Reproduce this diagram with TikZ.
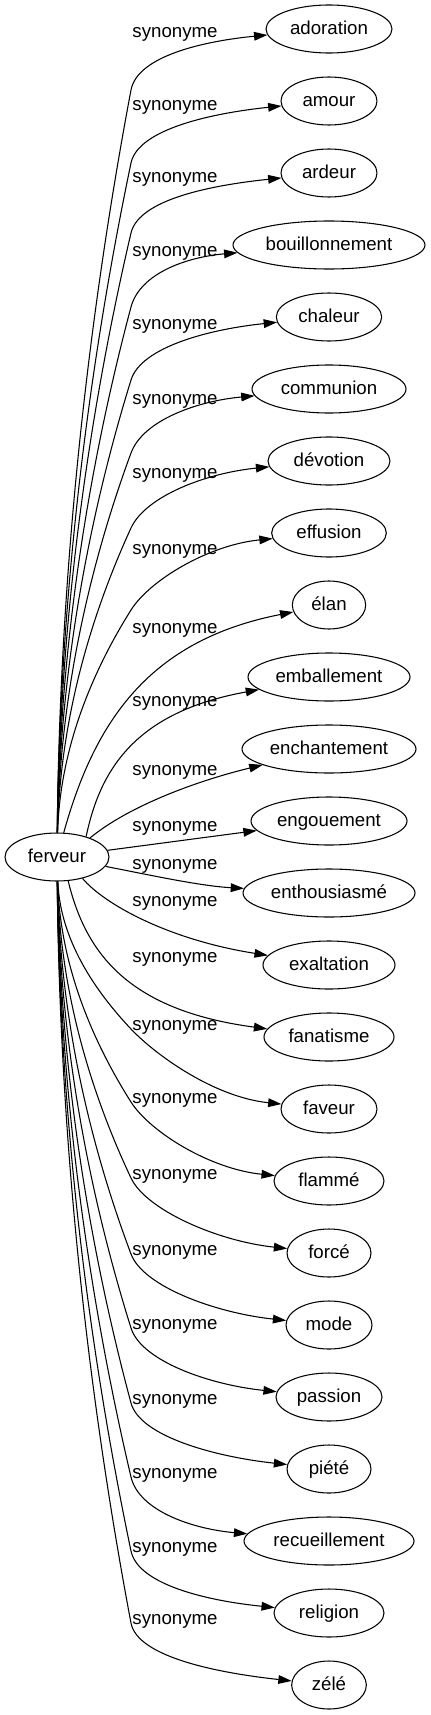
\documentclass[tikz,border=0pt]{standalone}
\usepackage{fontspec}
\setmainfont{Liberation Sans}
\usetikzlibrary{shapes.geometric,arrows.meta}
\begin{document}
\begin{tikzpicture}[x=0.75bp,y=-0.75bp,
  every node/.style={font=\fontsize{14bp}{16bp}\selectfont, text height=10.5bp, text depth=2.1bp, inner sep=0pt},
  word/.style={draw, ellipse, minimum height=36bp, line width=0.8bp},
  lbl/.style={},
  edge/.style={draw, line width=0.8bp, -{Triangle[length=10bp,width=6.5bp]}}]
\useasboundingbox (0,0) rectangle (430,1715);
\node[word, minimum width=78bp] (ferveur) at (57,857) {ferveur};
\node[word, minimum width=94.5bp] (adoration) at (329,29) {adoration};
\node[word, minimum width=72bp] (amour) at (329,101) {amour};
\node[word, minimum width=72bp] (ardeur) at (329,173) {ardeur};
\node[word, minimum width=144bp] (bouill) at (329,245) {bouillonnement};
\node[word, minimum width=79bp] (chaleur) at (329,317) {chaleur};
\node[word, minimum width=115.5bp] (communion) at (329,389) {communion};
\node[word, minimum width=91.5bp] (devotion) at (329,461) {dévotion};
\node[word, minimum width=86bp] (effusion) at (329,533) {effusion};
\node[word, minimum width=55bp] (elan) at (329,605) {élan};
\node[word, minimum width=121.5bp] (emballement) at (329,677) {emballement};
\node[word, minimum width=130.5bp] (enchantement) at (329,749) {enchantement};
\node[word, minimum width=117bp] (engouement) at (329,821) {engouement};
\node[word, minimum width=129bp] (enthousiasme) at (329,893) {enthousiasmé};
\node[word, minimum width=99bp] (exaltation) at (329,965) {exaltation};
\node[word, minimum width=97.5bp] (fanatisme) at (329,1037) {fanatisme};
\node[word, minimum width=72bp] (faveur) at (329,1109) {faveur};
\node[word, minimum width=82.5bp] (flamme) at (329,1181) {flammé};
\node[word, minimum width=63bp] (force) at (329,1253) {forcé};
\node[word, minimum width=64.5bp] (mode) at (329,1325) {mode};
\node[word, minimum width=79.5bp] (passion) at (329,1397) {passion};
\node[word, minimum width=63bp] (piete) at (329,1469) {piété};
\node[word, minimum width=127.5bp] (recueil) at (329,1541) {recueillement};
\node[word, minimum width=82.5bp] (religion) at (329,1613) {religion};
\node[word, minimum width=56bp] (zele) at (329,1685) {zélé};
\foreach \ly [count=\k] in {32,105,177,251,324,399,473,549,628,701,770,826,864,901,957,1025,1098,1174,1250,1324,1399,1473,1547,1619}{
  \node[lbl] (lab\k) at (175,\ly) {synonyme};
}
\foreach \n/\yt/\my/\rx in {adoration/29/90/63, amour/101/163/48, ardeur/173/233/48, bouill/245/307/96, chaleur/317/380/52.5, communion/389/453/77, devotion/461/528/61, effusion/533/610/57.5, faveur/1109/1029/48, flamme/1181/1102/55, force/1253/1178/42, mode/1325/1254/43, passion/1397/1328/53, piete/1469/1403/42, recueil/1541/1477/85, religion/1613/1551/55, zele/1685/1623/37.5}{
  \pgfmathsetmacro\s{\yt<857 ? -1 : 1}
  \pgfmathsetmacro\sy{857+\s*24}
  \pgfmathsetmacro\dy{abs(\my-\sy)}
  \pgfmathsetmacro\ay{\sy+\s*0.4*\dy}
  \pgfmathsetmacro\by{\my-\s*0.25*\dy}
  \pgfmathsetmacro\len{10*veclen(3.5,0.025*\dy)}
  \pgfmathsetmacro\cx{131+1225/\len}
  \pgfmathsetmacro\cy{\my+\s*0.25*\dy*35/\len}
  \pgfmathsetmacro\tx{329-\rx}
  \pgfmathsetmacro\dxx{\tx-0.45*(\tx-131)}
  \pgfmathsetmacro\dyy{\yt-\s*12}
  \draw[edge] (ferveur) .. controls (60,\ay) and (96,\by) .. (131,\my) .. controls (\cx,\cy) and (\dxx,\dyy) .. (\n);
}
\draw[edge] (ferveur) .. controls (95,720) and (150,640) .. (elan);
\draw[edge] (ferveur.35) .. controls (100,770) and (135,712) .. (emballement);
\draw[edge] (ferveur.30) .. controls (130,805) and (200,780) .. (enchantement);
\draw[edge] (ferveur) -- (engouement);
\draw[edge] (ferveur) .. controls (150,875) and (200,886) .. (enthousiasme);
\draw[edge] (ferveur.-40) .. controls (105,905) and (170,940) .. (exaltation);
\draw[edge] (ferveur.-65) .. controls (85,950) and (125,1010) .. (fanatisme);
\end{tikzpicture}
\end{document}
